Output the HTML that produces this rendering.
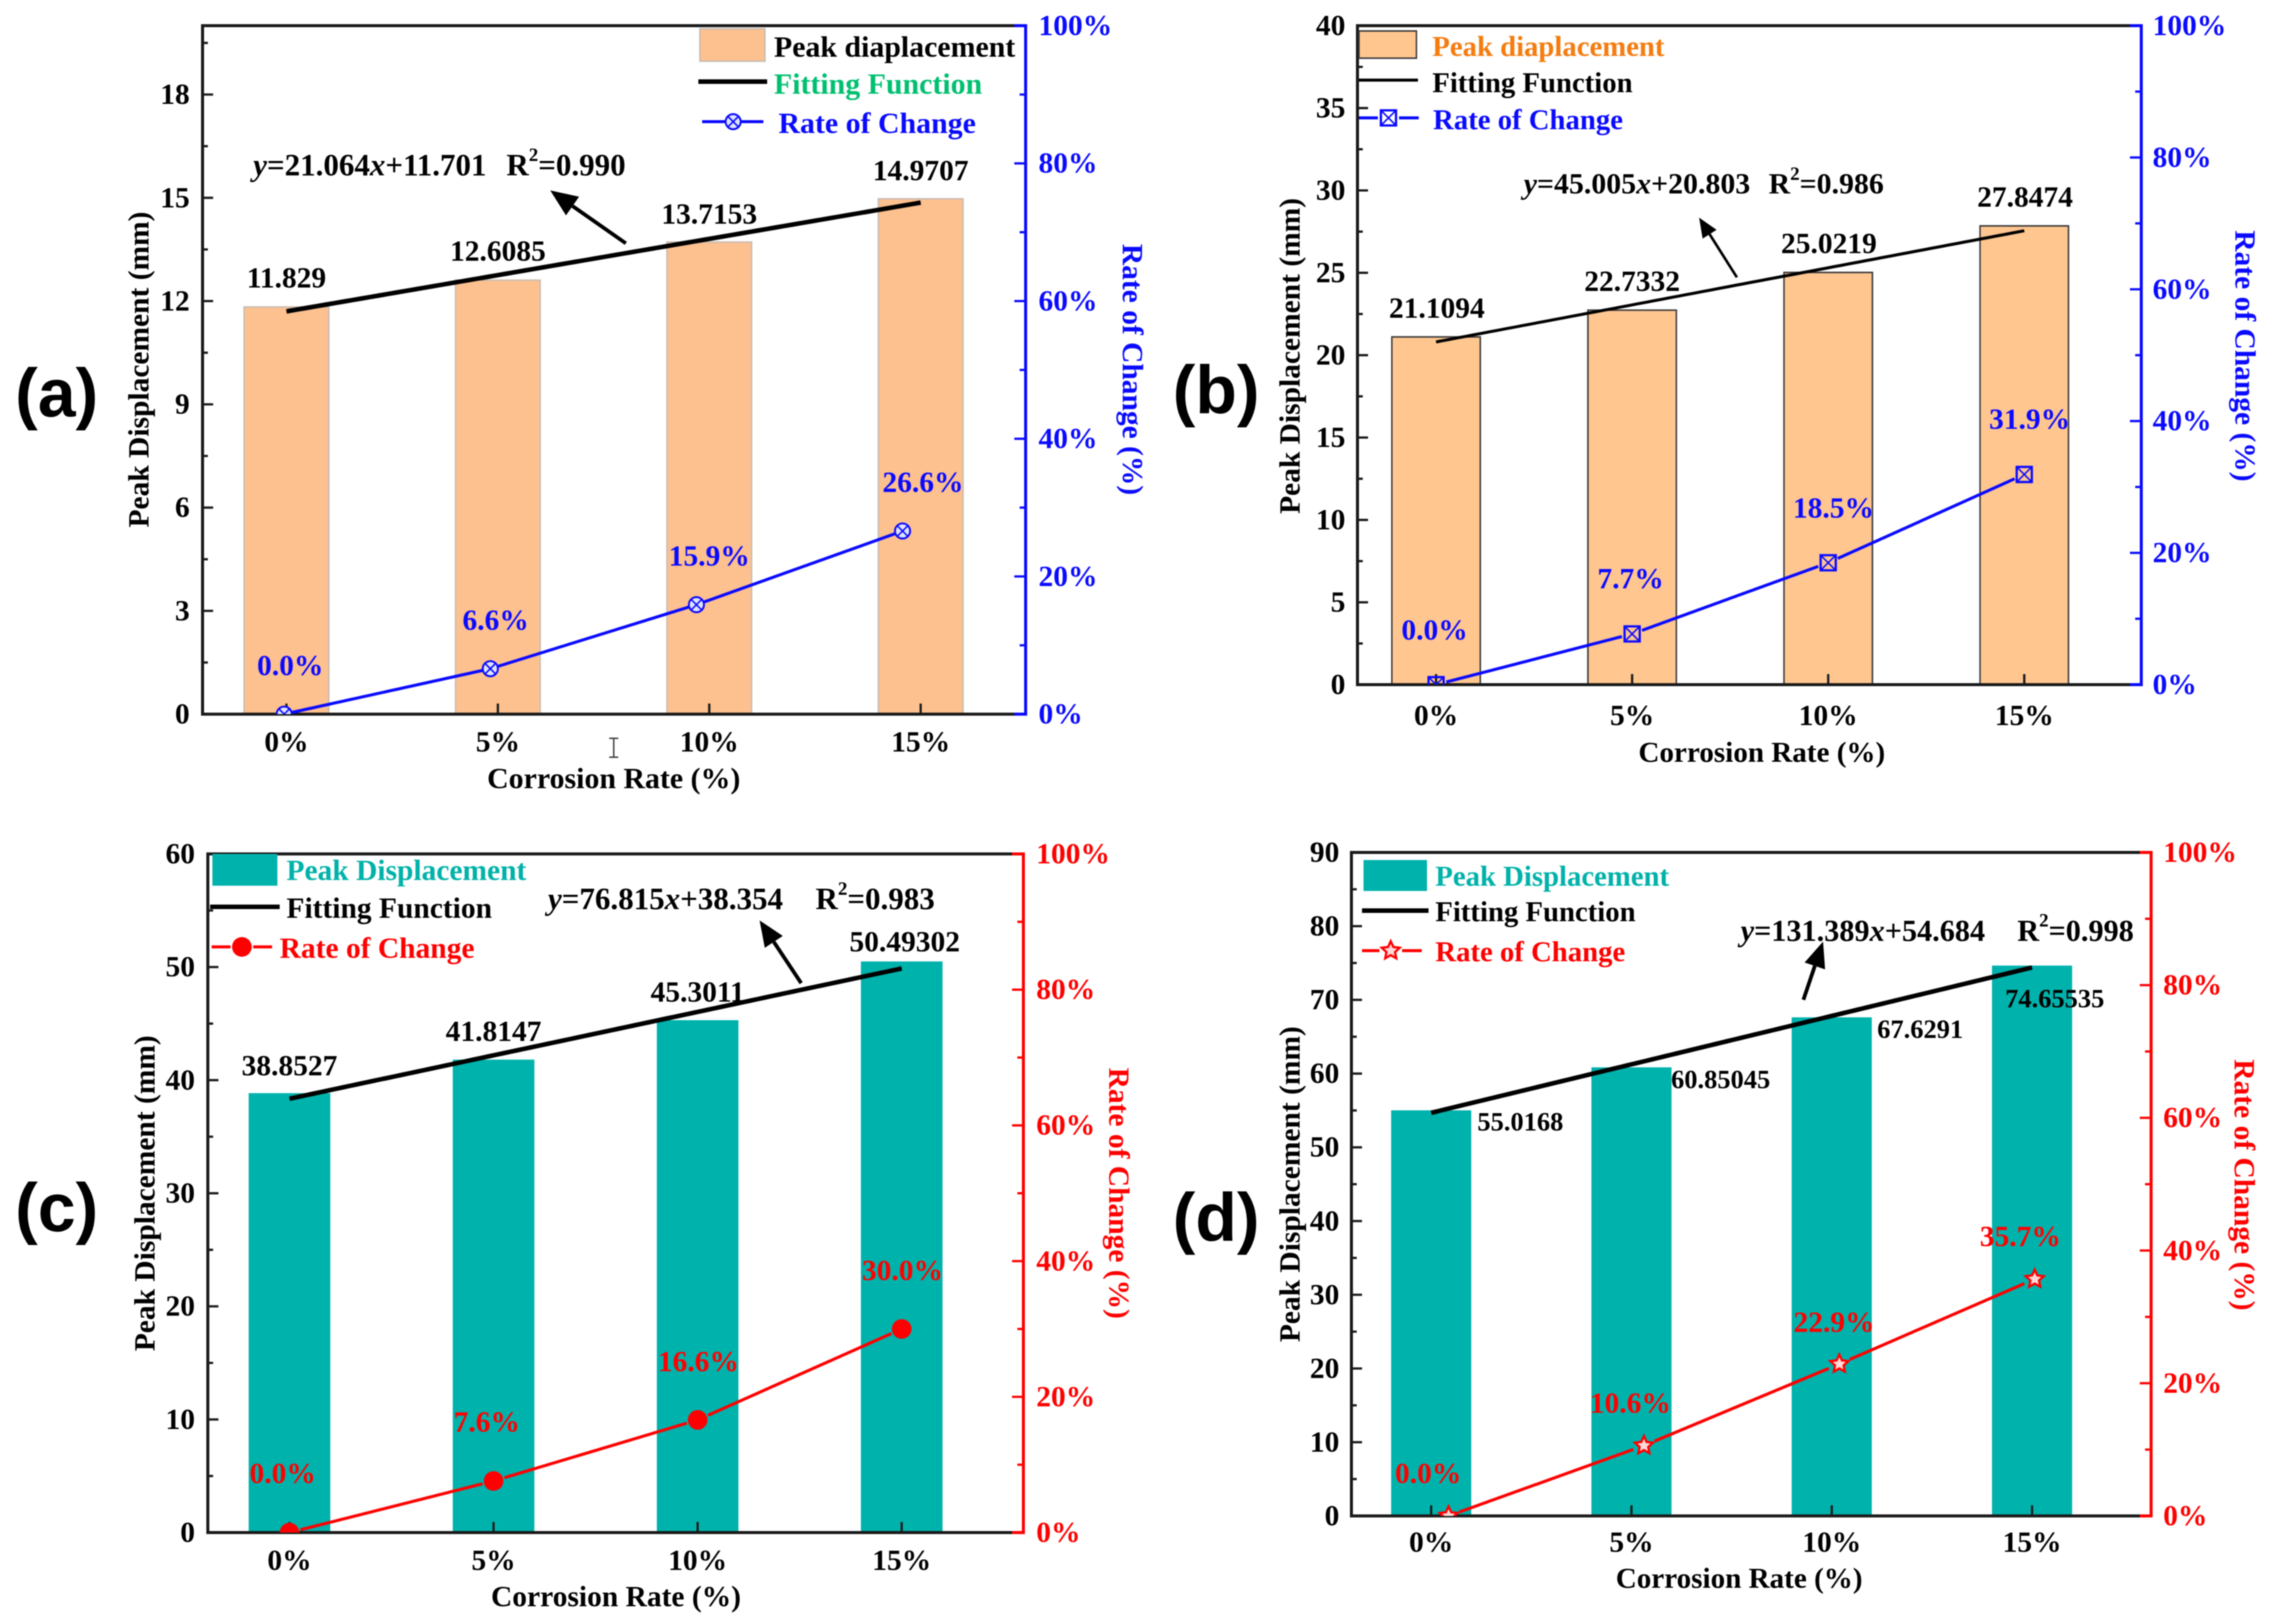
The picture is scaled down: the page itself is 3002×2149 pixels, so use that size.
<!DOCTYPE html>
<html lang="en">
<head>
<meta charset="utf-8">
<title>Peak displacement versus corrosion rate</title>
<style>
html,body{margin:0;padding:0;background:#fff;}
svg{display:block;filter:blur(0.8px);}
text{font-family:"Liberation Serif",serif;font-weight:bold;font-size:39px;dominant-baseline:central;}
.panel-tag{font-family:"Liberation Sans",sans-serif;font-size:90px;}
</style>
</head>
<body>
<svg id="figure" xmlns="http://www.w3.org/2000/svg" width="3002" height="2149" viewBox="0 0 3002 2149"></svg>
<script>
const categories = ['0%', '5%', '10%', '15%'];
const corrosionFractions = [0, 0.05, 0.10, 0.15];
const rateTicks = [0, 20, 40, 60, 80, 100];
const rateMinorTicks = [10, 30, 50, 70, 90];

const displacementA = [11.829, 12.6085, 13.7153, 14.9707];
const rateA = [0.0, 6.6, 15.9, 26.6];
const fitA = [21.064, 11.701];
const r2A = 0.990;
const yTicksA = [0, 3, 6, 9, 12, 15, 18];
const yMinorA = [1.5, 4.5, 7.5, 10.5, 13.5, 16.5, 19.5];
const yMaxA = 20;

const displacementB = [21.1094, 22.7332, 25.0219, 27.8474];
const rateB = [0.0, 7.7, 18.5, 31.9];
const fitB = [45.005, 20.803];
const r2B = 0.986;
const yTicksB = [0, 5, 10, 15, 20, 25, 30, 35, 40];
const yMinorB = [2.5, 7.5, 12.5, 17.5, 22.5, 27.5, 32.5, 37.5];
const yMaxB = 40;

const displacementC = [38.8527, 41.8147, 45.3011, 50.49302];
const rateC = [0.0, 7.6, 16.6, 30.0];
const fitC = [76.815, 38.354];
const r2C = 0.983;
const yTicksC = [0, 10, 20, 30, 40, 50, 60];
const yMinorC = [5, 15, 25, 35, 45, 55];
const yMaxC = 60;

const displacementD = [55.0168, 60.85045, 67.6291, 74.65535];
const rateD = [0.0, 10.6, 22.9, 35.7];
const fitD = [131.389, 54.684];
const r2D = 0.998;
const yTicksD = [0, 10, 20, 30, 40, 50, 60, 70, 80, 90];
const yMinorD = [5, 15, 25, 35, 45, 55, 65, 75, 85];
const yMaxD = 90;

const NS = 'http://www.w3.org/2000/svg';
const root = document.getElementById('figure');

function mk(tag, attrs, parent) {
  const el = document.createElementNS(NS, tag);
  for (const k in attrs) el.setAttribute(k, attrs[k]);
  parent.appendChild(el);
  return el;
}
function txt(str, x, y, fill, anchor, parent, size) {
  const el = mk('text', { x: x, y: y, fill: fill, 'text-anchor': anchor }, parent);
  if (size) el.style.fontSize = size + 'px';
  el.textContent = str;
  return el;
}

function drawMarker(kind, x, y, color, parent) {
  const g = mk('g', {}, parent);
  if (kind === 'circlex') {
    mk('circle', { cx: x, cy: y, r: 10, fill: '#dfe3ff', stroke: color, 'stroke-width': 2.5 }, g);
    mk('path', { d: `M${x - 7} ${y - 7}L${x + 7} ${y + 7}M${x + 7} ${y - 7}L${x - 7} ${y + 7}`, stroke: color, 'stroke-width': 2, fill: 'none' }, g);
  } else if (kind === 'squarex') {
    mk('rect', { x: x - 10, y: y - 10, width: 20, height: 20, fill: 'none', stroke: color, 'stroke-width': 3 }, g);
    mk('path', { d: `M${x - 10} ${y - 10}L${x + 10} ${y + 10}M${x + 10} ${y - 10}L${x - 10} ${y + 10}`, stroke: color, 'stroke-width': 2, fill: 'none' }, g);
  } else if (kind === 'circle') {
    mk('circle', { cx: x, cy: y, r: 13, fill: color }, g);
  } else {
    let pts = '';
    for (let i = 0; i < 10; i++) {
      const r = i % 2 ? 6 : 12.5;
      const a = -Math.PI / 2 + i * Math.PI / 5;
      pts += (x + r * Math.cos(a)).toFixed(1) + ',' + (y + r * Math.sin(a)).toFixed(1) + ' ';
    }
    mk('polygon', { points: pts, fill: '#ffd8d8', stroke: color, 'stroke-width': 3 }, g);
  }
  return g;
}

function drawArrow(a, parent) {
  const g = mk('g', {}, parent);
  const dx = a.x2 - a.x1, dy = a.y2 - a.y1, len = Math.hypot(dx, dy);
  const ux = dx / len, uy = dy / len;
  const bx = a.x2 - ux * a.head, by = a.y2 - uy * a.head;
  mk('line', { x1: a.x1, y1: a.y1, x2: bx, y2: by, stroke: '#000', 'stroke-width': a.w }, g);
  const hw = a.head * 0.42;
  mk('polygon', { points: `${a.x2},${a.y2} ${bx - uy * hw},${by + ux * hw} ${bx + uy * hw},${by - ux * hw}`, fill: '#000' }, g);
  return g;
}

function drawPanel(p) {
  const g = mk('g', {}, root);
  
  

  const yL = v => p.B - (p.B - p.T) * v / p.yMax;
  const yR = v => p.B - (p.B - p.T) * v / 100;
  const barX = i => p.barX0 + i * p.barStep;
  const markX = i => p.markX0 + i * p.markStep;
  const fitX = f => p.barX0 + f / corrosionFractions[1] * p.barStep;

  const clipId = 'plot-clip-' + p.id;
  const defs = mk('defs', {}, g);
  const clip = mk('clipPath', { id: clipId }, defs);
  mk('rect', { x: p.L, y: p.T, width: p.R - p.L, height: p.B - p.T }, clip);

  const barsG = mk('g', {}, g);
  
  
  p.disp.forEach((v, i) => {
    const bar = mk('rect', { x: barX(i) - p.barW / 2, y: yL(v), width: p.barW, height: p.B - yL(v), fill: p.barFill, stroke: p.barStroke, 'stroke-width': p.barStrokeW }, barsG);
    
    
  });

  // axes
  const axisL = mk('line', { x1: p.L, y1: p.T, x2: p.L, y2: p.B, stroke: '#1a1a1a', 'stroke-width': 4 }, g);
  
  
  const axisT = mk('line', { x1: p.L - 2, y1: p.T, x2: p.R - 15, y2: p.T, stroke: '#1a1a1a', 'stroke-width': 4 }, g);
  
  
  const axisB = mk('line', { x1: p.L - 2, y1: p.B, x2: p.R - 15, y2: p.B, stroke: '#1a1a1a', 'stroke-width': 4 }, g);
  
  
  const axisR = mk('path', { d: `M${p.R - 15} ${p.T}H${p.R}V${p.B}H${p.R - 15}`, fill: 'none', stroke: p.color, 'stroke-width': 4 }, g);
  
  

  p.yTicks.forEach(v => {
    const t = mk('line', { x1: p.L, y1: yL(v), x2: p.L + 14, y2: yL(v), stroke: '#1a1a1a', 'stroke-width': 3 }, g);
    
    
    const l = txt(String(v), p.yLabelX, yL(v), '#000', 'end', g);
    
    
  });
  p.yMinor.forEach(v => {
    const t = mk('line', { x1: p.L, y1: yL(v), x2: p.L + 7, y2: yL(v), stroke: '#1a1a1a', 'stroke-width': 3 }, g);
    
    
  });
  rateTicks.forEach(v => {
    const t = mk('line', { x1: p.R - 15, y1: yR(v), x2: p.R, y2: yR(v), stroke: p.color, 'stroke-width': 3 }, g);
    
    
    const l = txt(v + '%', p.rLabelX, yR(v), p.color, 'start', g);
    
    
  });
  rateMinorTicks.forEach(v => {
    const t = mk('line', { x1: p.R - 8, y1: yR(v), x2: p.R, y2: yR(v), stroke: p.color, 'stroke-width': 3 }, g);
    
    
  });
  categories.forEach((c, i) => {
    const t = mk('line', { x1: barX(i), y1: p.B, x2: barX(i), y2: p.B - 14, stroke: '#1a1a1a', 'stroke-width': 3 }, g);
    
    
    const l = txt(c, barX(i), p.xLabelY, '#000', 'middle', g);
    
    
  });

  // titles
  const xt = txt('Corrosion Rate (%)', p.xTitle[0], p.xTitle[1], '#000', 'middle', g, p.titleFont);
  
  
  const yt = txt('Peak Displacement (mm)', 0, 0, '#000', 'middle', g);
  yt.setAttribute('transform', `translate(${p.yTitle[0]} ${p.yTitle[1]}) rotate(-90)`);
  
  
  const rt = txt('Rate of Change (%)', 0, 0, p.color, 'middle', g);
  rt.setAttribute('transform', `translate(${p.rTitle[0]} ${p.rTitle[1]}) rotate(90)`);
  
  
  const tag = txt('(' + p.id + ')', p.tag[0], p.tag[1], '#000', 'middle', g);
  tag.setAttribute('class', 'panel-tag');
  
  

  // fitting line
  const n = corrosionFractions.length - 1;
  const fit = mk('line', {
    x1: fitX(corrosionFractions[0]), y1: yL(p.fit[0] * corrosionFractions[0] + p.fit[1]),
    x2: fitX(corrosionFractions[n]), y2: yL(p.fit[0] * corrosionFractions[n] + p.fit[1]),
    stroke: '#000', 'stroke-width': p.fitW
  }, g);
  
  

  // rate series with gaps around markers
  p.rate.forEach((v, i) => {
    if (i === 0) return;
    const x0 = markX(i - 1), y0 = yR(p.rate[i - 1]), x1 = markX(i), y1 = yR(v);
    const len = Math.hypot(x1 - x0, y1 - y0), ux = (x1 - x0) / len, uy = (y1 - y0) / len;
    const seg = mk('line', { x1: x0 + ux * p.gap, y1: y0 + uy * p.gap, x2: x1 - ux * p.gap, y2: y1 - uy * p.gap, stroke: p.color, 'stroke-width': 4 }, g);
    
    
  });
  const markersG = mk('g', { 'clip-path': `url(#${clipId})` }, g);
  
  
  p.rate.forEach((v, i) => {
    const m = drawMarker(p.marker, markX(i), yR(v), p.color, markersG);
    
    
  });

  // value labels
  p.disp.forEach((v, i) => {
    const l = txt(String(v), barX(i) + p.dispOff[i][0], yL(v) + p.dispOff[i][1], '#000', 'middle', g, p.dispFont);
    
    
  });
  p.rate.forEach((v, i) => {
    const l = txt(v.toFixed(1) + '%', markX(i) + p.rateOff[i][0], yR(v) + p.rateOff[i][1], p.color, 'middle', g);
    
    
  });

  // annotation
  const eq = txt('', p.eq[0], p.eq[1], '#000', 'start', g, p.eqFont);
  
  
  mk('tspan', { 'font-style': 'italic' }, eq).textContent = 'y';
  mk('tspan', {}, eq).textContent = '=' + p.fit[0].toFixed(3);
  mk('tspan', { 'font-style': 'italic' }, eq).textContent = 'x';
  mk('tspan', {}, eq).textContent = '+' + p.fit[1].toFixed(3);
  const r2 = txt('', p.r2x, p.eq[1], '#000', 'start', g, p.eqFont);
  
  
  mk('tspan', {}, r2).textContent = 'R';
  mk('tspan', { dy: -13, 'font-size': 25 }, r2).textContent = '2';
  mk('tspan', { dy: 13 }, r2).textContent = '=' + p.r2.toFixed(3);
  const arrow = drawArrow(p.arrow, g);
  
  

  // legend
  const lg = mk('g', {}, g);
  
  
  const s = p.leg;
  const sw = mk('rect', { x: s.sw[0], y: s.sw[1], width: s.sw[2], height: s.sw[3], fill: p.barFill, stroke: s.swStroke, 'stroke-width': 2 }, lg);
  
  
  const t1 = txt(s.barLabel, s.t1[0], s.t1[1], s.barColor, 'start', lg, s.font);
  
  
  const l2 = mk('line', { x1: s.fitLine[0], x2: s.fitLine[1], y1: s.fitLine[2], y2: s.fitLine[2], stroke: '#000', 'stroke-width': p.fitW }, lg);
  
  
  const t2 = txt('Fitting Function', s.t2[0], s.t2[1], s.fitColor, 'start', lg, s.font);
  
  
  const l3a = mk('line', { x1: s.rateLine[0], x2: s.rateMark - p.gap, y1: s.rateLine[2], y2: s.rateLine[2], stroke: p.color, 'stroke-width': 4 }, lg);
  
  
  const l3b = mk('line', { x1: s.rateMark + p.gap, x2: s.rateLine[1], y1: s.rateLine[2], y2: s.rateLine[2], stroke: p.color, 'stroke-width': 4 }, lg);
  
  
  const lm = drawMarker(p.marker, s.rateMark, s.rateLine[2], p.color, lg);
  
  
  const t3 = txt('Rate of Change', s.t3[0], s.t3[1], p.color, 'start', lg, s.font);
  
  
}

const BLUE = '#0a0aff', RED = '#ff0000', ORANGE_BAR = '#fdc08f', TEAL = '#00b2ac';

drawPanel({
  id: 'a', L: 268, R: 1357, T: 34, B: 945, yMax: yMaxA,
  disp: displacementA, rate: rateA, fit: fitA, r2: r2A, yTicks: yTicksA, yMinor: yMinorA,
  barX0: 379, barStep: 279.7, barW: 112, barFill: ORANGE_BAR, barStroke: '#c9bdb3', barStrokeW: 2,
  markX0: 376, markStep: 272.7, marker: 'circlex', color: BLUE, gap: 11, fitW: 6,
  yLabelX: 251, rLabelX: 1374, xLabelY: 982, xTitle: [812, 1030], yTitle: [184, 489], rTitle: [1498, 489], tag: [75, 521],
  titleFont: 39.5, dispFont: 39, eqFont: 41,
  dispOff: [[0, -38], [0, -38], [0, -37], [0, -37]],
  rateOff: [[8, -64], [7, -64], [17, -64], [27, -64]],
  eq: [335, 218], r2x: 670, arrow: { x1: 828, y1: 322, x2: 728, y2: 252, w: 5, head: 36 },
  leg: { font: 39.5, sw: [926, 38, 86, 43], swStroke: '#c9bdb3', t1: [1024, 62], barLabel: 'Peak diaplacement', barColor: '#000',
         fitLine: [924, 1015, 108], t2: [1024, 111], fitColor: '#00c070',
         rateLine: [929, 1010, 161], rateMark: 970, t3: [1030, 163] }
});

drawPanel({
  id: 'b', L: 1796, R: 2833, T: 34, B: 906, yMax: yMaxB,
  disp: displacementB, rate: rateB, fit: fitB, r2: r2B, yTicks: yTicksB, yMinor: yMinorB,
  barX0: 1900, barStep: 259.4, barW: 117, barFill: '#ffc690', barStroke: '#3a3a3a', barStrokeW: 2,
  markX0: 1900, markStep: 259.4, marker: 'squarex', color: BLUE, gap: 14, fitW: 4,
  yLabelX: 1780, rLabelX: 2848, xLabelY: 947, xTitle: [2331, 996], yTitle: [1707, 471], rTitle: [2970, 471], tag: [1609, 517],
  titleFont: 38.5, dispFont: 39, eqFont: 39.5,
  dispOff: [[1, -38], [0, -38], [1, -38], [1, -38]],
  rateOff: [[-2, -72], [-2, -73], [7, -72], [7, -73]],
  eq: [2016, 243], r2x: 2340, arrow: { x1: 2298, y1: 367, x2: 2248, y2: 288, w: 3.5, head: 26 },
  leg: { font: 38, sw: [1798, 41, 76, 36], swStroke: '#3a3a3a', t1: [1895, 62], barLabel: 'Peak diaplacement', barColor: '#f57c10',
         fitLine: [1798, 1876, 106], t2: [1895, 110], fitColor: '#000',
         rateLine: [1798, 1877, 156], rateMark: 1837, t3: [1896, 159] }
});

drawPanel({
  id: 'c', L: 275, R: 1354, T: 1130, B: 2028, yMax: yMaxC,
  disp: displacementC, rate: rateC, fit: fitC, r2: r2C, yTicks: yTicksC, yMinor: yMinorC,
  barX0: 383, barStep: 270, barW: 108, barFill: TEAL, barStroke: 'none', barStrokeW: 0,
  markX0: 383, markStep: 270, marker: 'circle', color: RED, gap: 15, fitW: 6,
  yLabelX: 258, rLabelX: 1371, xLabelY: 2065, xTitle: [815, 2113], yTitle: [192, 1579], rTitle: [1480, 1579], tag: [75, 1599],
  titleFont: 39, dispFont: 39, eqFont: 41,
  dispOff: [[0, -36], [0, -37], [0, -37], [4, -26]],
  rateOff: [[-9, -78], [-9, -78], [1, -77], [1, -77]],
  eq: [725, 1189], r2x: 1079, arrow: { x1: 1060, y1: 1301, x2: 1005, y2: 1218, w: 5, head: 34 },
  leg: { font: 39, sw: [281, 1130, 86, 42], swStroke: 'none', t1: [379, 1152], barLabel: 'Peak Displacement', barColor: '#00b2a9',
         fitLine: [278, 370, 1200], t2: [379, 1202], fitColor: '#000',
         rateLine: [280, 360, 1253], rateMark: 320, t3: [370, 1255] }
});

drawPanel({
  id: 'd', L: 1788, R: 2846, T: 1128, B: 2006, yMax: yMaxD,
  disp: displacementD, rate: rateD, fit: fitD, r2: r2D, yTicks: yTicksD, yMinor: yMinorD,
  barX0: 1893.5, barStep: 265, barW: 106, barFill: TEAL, barStroke: 'none', barStrokeW: 0,
  markX0: 1916.5, markStep: 258.5, marker: 'star', color: RED, gap: 15, fitW: 6,
  yLabelX: 1772, rLabelX: 2862, xLabelY: 2041, xTitle: [2301, 2089], yTitle: [1707, 1567], rTitle: [2969, 1568], tag: [1609, 1612],
  titleFont: 38.5, dispFont: 35, eqFont: 40,
  dispOff: [[118, 15], [118, 16], [117, 16], [30, 44]],
  rateOff: [[-27, -56], [-18, -56], [-7, -55], [-19, -56]],
  eq: [2303, 1231], r2x: 2669, arrow: { x1: 2386, y1: 1323, x2: 2412, y2: 1246, w: 5, head: 34 },
  leg: { font: 38, sw: [1804, 1138, 84, 41], swStroke: 'none', t1: [1899, 1160], barLabel: 'Peak Displacement', barColor: '#00b2a9',
         fitLine: [1802, 1890, 1205], t2: [1899, 1207], fitColor: '#000',
         rateLine: [1802, 1881, 1258], rateMark: 1840, t3: [1899, 1260] }
});

const cursor = mk('path', { d: 'M806 977H818M812 977V1002M806 1002H818', fill: 'none', stroke: '#444', 'stroke-width': 2 }, root);


</script>
</body>
</html>
